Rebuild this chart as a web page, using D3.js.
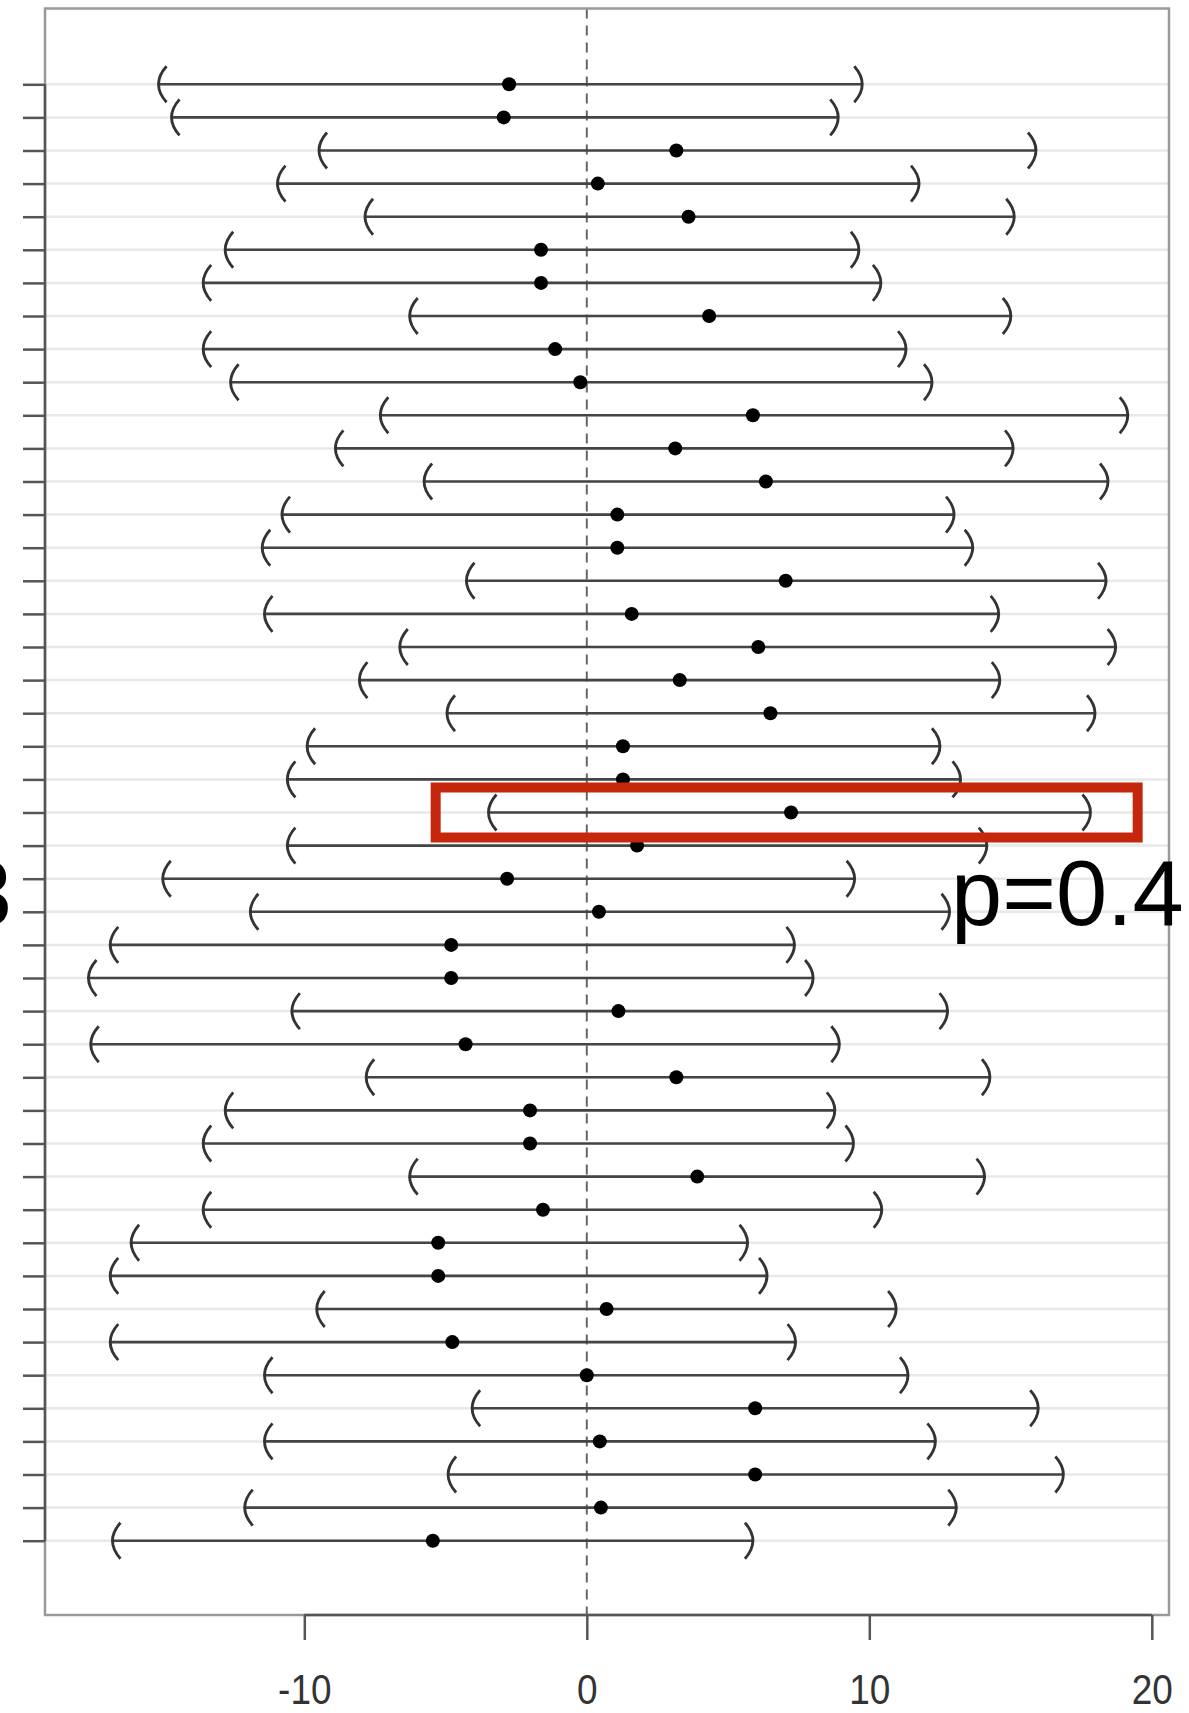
<!DOCTYPE html>
<html>
<head>
<meta charset="utf-8">
<script src="https://cdn.jsdelivr.net/npm/d3@7"></script>
<style>
  html, body { margin: 0; padding: 0; background: #fff; }
  svg { display: block; }
  text { font-family: "Liberation Sans", Arial, Helvetica, sans-serif; }
</style>
</head>
<body>
<svg id="chart" width="1189" height="1713"></svg>
<script>
// ---- data ----
const rows = d3.range(1, 46);
const lower = [-15.16,-14.70,-9.48,-10.95,-7.85,-12.80,-13.58,-6.27,-13.58,-12.61,
               -7.31,-8.90,-5.76,-10.79,-11.49,-4.26,-11.41,-6.62,-8.05,-4.95,
               -9.90,-10.60,-3.48,-10.60,-15.01,-11.91,-16.87,-17.64,-10.44,-17.56,
               -7.81,-12.80,-13.58,-6.27,-13.58,-16.13,-16.87,-9.56,-16.87,-11.41,
               -4.06,-11.41,-4.91,-12.11,-16.79];
const estimate = [-2.75,-2.94,3.17,0.39,3.60,-1.62,-1.62,4.33,-1.12,-0.23,
                  5.88,3.13,6.34,1.08,1.08,7.04,1.59,6.07,3.29,6.50,
                  1.28,1.28,7.23,1.78,-2.82,0.43,-4.80,-4.80,1.12,-4.29,
                  3.17,-2.01,-2.01,3.91,-1.55,-5.26,-5.26,0.70,-4.76,0.00,
                  5.96,0.46,5.96,0.50,-5.45];
const upper = [9.75,8.90,15.90,11.76,15.13,9.63,10.41,15.01,11.30,12.22,
               19.15,15.09,18.45,13.00,13.66,18.38,14.58,18.72,14.62,17.99,
               12.50,13.23,17.83,14.16,9.48,12.84,7.35,8.01,12.77,8.94,
               14.27,8.78,9.44,14.08,10.44,5.69,6.38,10.95,7.39,11.37,
               15.98,12.34,16.87,13.08,5.88];
const xTicks = [-10, 0, 10, 20];
const xTickLabels = ["-10", "0", "10", "20"];
const highlightRow = 23;
const highlightRange = [-5.35, 19.5];
const pLabel = "p=0.4";
const leftLabel = "3";

const data = rows.map((r, i) => ({row: r, lo: lower[i], est: estimate[i], hi: upper[i]}));

// ---- layout ----
const svg = d3.select("#chart");
const box = {left: 45, right: 1169, top: 8.5, bottom: 1615};

const x = d3.scaleLinear().domain([-10, 20]).range([304.3, 1151.8]);
const y = d3.scalePoint().domain(rows).range([84.3, 1540.7]);

// gridlines
svg.append("g").selectAll("line").data(rows).join("line")
  .attr("x1", box.left).attr("x2", box.right)
  .attr("y1", d => y(d)).attr("y2", d => y(d))
  .attr("stroke", "#e8e8e8").attr("stroke-width", 2.5);

// zero dashed line
svg.append("line")
  .attr("x1", x(0)).attr("x2", x(0))
  .attr("y1", box.top).attr("y2", box.bottom)
  .attr("stroke", "#666").attr("stroke-width", 2)
  .attr("stroke-dasharray", "10,7");

// box
svg.append("rect")
  .attr("x", box.left).attr("y", box.top)
  .attr("width", box.right - box.left).attr("height", box.bottom - box.top)
  .attr("fill", "none").attr("stroke", "#999").attr("stroke-width", 2.5);

// y axis (ticks only, no labels)
const yAxis = d3.axisLeft(y).tickSize(22).tickFormat("");
const gy = svg.append("g").attr("transform", `translate(${box.left},0)`).call(yAxis);
gy.select(".domain").attr("stroke", "#555").attr("stroke-width", 2.5)
  .attr("d", `M0,${y(rows[0])}V${y(rows[rows.length-1])}`);
gy.selectAll(".tick line").attr("stroke", "#555").attr("stroke-width", 2.5);

// x axis
const xAxis = d3.axisBottom(x).tickValues(xTicks).tickSize(25).tickPadding(33)
  .tickFormat((d, i) => xTickLabels[i]);
const gx = svg.append("g").attr("transform", `translate(0,${box.bottom})`).call(xAxis);
gx.select(".domain").attr("stroke", "#555").attr("stroke-width", 2.5)
  .attr("d", `M${x(xTicks[0])},0H${x(xTicks[xTicks.length-1])}`);
gx.selectAll(".tick line").attr("stroke", "#555").attr("stroke-width", 2.5);
gx.selectAll(".tick text")
  .attr("font-size", 43).attr("fill", "#333")
  .attr("font-family", "'Liberation Sans', Arial, sans-serif")
  .attr("transform", "scale(0.86,1)");

// CI segments
const g = svg.append("g");
g.selectAll("line.ci").data(data).join("line").attr("class", "ci")
  .attr("x1", d => x(d.lo)).attr("x2", d => x(d.hi))
  .attr("y1", d => y(d.row)).attr("y2", d => y(d.row))
  .attr("stroke", "#444").attr("stroke-width", 2.6);

// parentheses
const ph = 18, pw = 8;
g.selectAll("path.lp").data(data).join("path").attr("class", "lp")
  .attr("d", d => { const cx = x(d.lo), cy = y(d.row);
    return `M${cx+pw},${cy-ph}Q${cx-pw},${cy} ${cx+pw},${cy+ph}`; })
  .attr("fill", "none").attr("stroke", "#333").attr("stroke-width", 2.8);
g.selectAll("path.rp").data(data).join("path").attr("class", "rp")
  .attr("d", d => { const cx = x(d.hi), cy = y(d.row);
    return `M${cx-pw},${cy-ph}Q${cx+pw},${cy} ${cx-pw},${cy+ph}`; })
  .attr("fill", "none").attr("stroke", "#333").attr("stroke-width", 2.8);

// point estimates
g.selectAll("circle").data(data).join("circle")
  .attr("cx", d => x(d.est)).attr("cy", d => y(d.row)).attr("r", 7)
  .attr("fill", "#000");

// highlight rectangle
svg.append("rect")
  .attr("x", x(highlightRange[0])).attr("y", y(highlightRow) - 25)
  .attr("width", x(highlightRange[1]) - x(highlightRange[0])).attr("height", 50)
  .attr("fill", "none").attr("stroke", "#c4270b").attr("stroke-width", 10);

// annotation texts
svg.append("text").attr("x", 951).attr("y", 925)
  .attr("font-size", 92).attr("fill", "#000").text(pLabel);
svg.append("text").attr("x", 12).attr("y", 925).attr("text-anchor", "end")
  .attr("font-size", 92).attr("fill", "#000").text(leftLabel);
</script>
</body>
</html>
